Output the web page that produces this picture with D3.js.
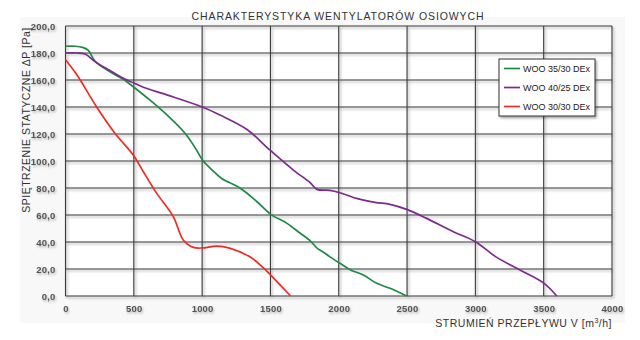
<!DOCTYPE html>
<html>
<head>
<meta charset="utf-8">
<script src="https://cdn.jsdelivr.net/npm/d3@7"></script>
<style>
  html, body { margin: 0; padding: 0; background: #ffffff; }
  svg { display: block; font-family: "Liberation Sans", Arial, sans-serif; }
</style>
</head>
<body>
<svg id="chart" width="640" height="340"></svg>
<script>
// Fan characteristic curves: static pressure vs. air flow
const title = "CHARAKTERYSTYKA WENTYLATORÓW OSIOWYCH";
const yTitle = "SPIĘTRZENIE STATYCZNE ΔP [Pa]";
const xTitleMain = "STRUMIEŃ PRZEPŁYWU V [m";
const xTitleSup = "3";
const xTitleEnd = "/h]";

const xTicks = [0, 500, 1000, 1500, 2000, 2500, 3000, 3500, 4000];
const yTicks = [0, 20, 40, 60, 80, 100, 120, 140, 160, 180, 200];

const seriesNames = ["WOO 35/30 DEx", "WOO 40/25 DEx", "WOO 30/30 DEx"];
const seriesColors = ["#1f8a45", "#7d2a8e", "#ee2c24"];

// [flow m3/h, pressure Pa]
const woo3530 = [
  [0, 185], [70, 185], [130, 184], [167, 182], [216, 174], [326, 166],
  [423, 160.5], [496, 155], [643, 143], [765, 132], [875, 120.5],
  [960, 108], [1001, 101], [1082, 92.5], [1143, 87], [1277, 80],
  [1400, 70], [1502, 60.5], [1619, 54], [1703, 47.6], [1790, 41],
  [1841, 35.5], [1880, 33], [1936, 29], [2009, 24.2], [2083, 19.5],
  [2180, 15.5], [2278, 9.4], [2375, 5.7], [2497, 0]
];
const woo4025 = [
  [0, 180], [80, 180], [143, 179.3], [216, 173.6], [326, 167],
  [423, 161.2], [496, 158], [570, 154.6], [741, 149], [1001, 140],
  [1131, 134], [1326, 123.5], [1497, 108], [1668, 93.3], [1790, 84],
  [1841, 79], [1936, 78.3], [2009, 76.5], [2131, 72.3], [2265, 69.4],
  [2375, 67.9], [2502, 64], [2644, 57.5], [2839, 47.6], [3000, 40.2],
  [3156, 28.6], [3327, 19.3], [3503, 9.4], [3596, 0]
];
const woo3030 = [
  [0, 175], [82, 164], [228, 140], [362, 120.5], [496, 104.4],
  [570, 92], [668, 76], [789, 58.8], [862, 41.5], [936, 36],
  [1001, 35.6], [1107, 37], [1201, 35.5], [1350, 29], [1447, 21],
  [1502, 15.5], [1648, 0]
];
const seriesData = [woo3530, woo4025, woo3030];

const svg = d3.select("#chart");

const x = d3.scaleLinear().domain([0, 4000]).range([65.5, 612]);
const y = d3.scaleLinear().domain([0, 200]).range([296, 26]);

const defs = svg.append("defs");
const shadow = defs.append("filter").attr("id", "shadow")
  .attr("x", "-20%").attr("y", "-20%").attr("width", "140%").attr("height", "140%");
shadow.append("feDropShadow").attr("dx", 1.5).attr("dy", 1.8)
  .attr("stdDeviation", 1.3).attr("flood-color", "#000").attr("flood-opacity", 0.35);
const tshadow = defs.append("filter").attr("id", "tshadow")
  .attr("x", "-20%").attr("y", "-40%").attr("width", "140%").attr("height", "180%");
tshadow.append("feDropShadow").attr("dx", 1).attr("dy", 1.5)
  .attr("stdDeviation", 1).attr("flood-color", "#000").attr("flood-opacity", 0.3);

// faint panel behind the plot
svg.append("rect").attr("x", 20).attr("y", 17).attr("width", 605).attr("height", 306)
  .attr("fill", "#f8f8f8");
svg.append("rect").attr("x", x(0)).attr("y", y(200))
  .attr("width", x(4000) - x(0)).attr("height", y(0) - y(200)).attr("fill", "#ffffff");

// grid
const grid = svg.append("g").attr("filter", "url(#shadow)")
  .attr("stroke", "#3a3a3a").attr("stroke-width", 1.1);
grid.selectAll("line.v").data(xTicks).join("line").attr("class", "v")
  .attr("x1", d => x(d)).attr("x2", d => x(d))
  .attr("y1", y(200)).attr("y2", y(0));
grid.selectAll("line.h").data(yTicks).join("line").attr("class", "h")
  .attr("x1", x(0)).attr("x2", x(4000))
  .attr("y1", d => y(d)).attr("y2", d => y(d));

// tick labels
const fmt = d => d.toFixed(1).replace(".", ",");
const yAxis = d3.axisLeft(y).tickValues(yTicks).tickFormat(fmt).tickSize(0).tickPadding(10);
const ga = svg.append("g").attr("transform", `translate(${x(0)},0)`).call(yAxis);
ga.select(".domain").remove();
ga.selectAll("text").attr("fill", "#555").attr("font-size", 9.5).attr("font-weight", "bold")
  .attr("letter-spacing", 0.2)
  .attr("font-family", "Liberation Sans, Arial, sans-serif").attr("filter", "url(#tshadow)");

const xAxis = d3.axisBottom(x).tickValues(xTicks).tickFormat(d => d).tickSize(0).tickPadding(9);
const gx = svg.append("g").attr("transform", `translate(0,${y(0)})`).call(xAxis);
gx.select(".domain").remove();
gx.selectAll("text").attr("fill", "#555").attr("font-size", 9.5).attr("font-weight", "bold")
  .attr("letter-spacing", 0.2)
  .attr("font-family", "Liberation Sans, Arial, sans-serif").attr("filter", "url(#tshadow)");

// curves
const line = d3.line().x(d => x(d[0])).y(d => y(d[1])).curve(d3.curveCatmullRom.alpha(0.5));
svg.append("g").selectAll("path").data(seriesData).join("path")
  .attr("d", d => line(d))
  .attr("fill", "none")
  .attr("stroke", (d, i) => seriesColors[i])
  .attr("stroke-width", 1.7)
  .attr("stroke-linejoin", "round");

// titles
svg.append("text").attr("x", 338).attr("y", 20).attr("text-anchor", "middle")
  .attr("font-size", 10.5).attr("letter-spacing", 0.9).attr("fill", "#333").text(title);

svg.append("text").attr("transform", `translate(30,120) rotate(-90)`)
  .attr("text-anchor", "middle").attr("font-size", 10.5).attr("letter-spacing", 0.5)
  .attr("fill", "#333").text(yTitle);

const xt = svg.append("text").attr("x", 612).attr("y", 327).attr("text-anchor", "end")
  .attr("font-size", 10.5).attr("letter-spacing", 0.5).attr("fill", "#333");
xt.append("tspan").text(xTitleMain);
xt.append("tspan").attr("font-size", 7).attr("dy", -4).text(xTitleSup);
xt.append("tspan").attr("dy", 4).text(xTitleEnd);

// legend
const lg = svg.append("g").attr("transform", "translate(499,59)");
lg.append("rect").attr("width", 96).attr("height", 57).attr("fill", "#fff")
  .attr("stroke", "#333").attr("stroke-width", 1).attr("filter", "url(#shadow)");
const items = lg.selectAll("g.item").data(seriesNames).join("g").attr("class", "item")
  .attr("transform", (d, i) => `translate(0,${9.5 + i * 19})`);
items.append("line").attr("x1", 5).attr("x2", 21).attr("y1", 0).attr("y2", 0)
  .attr("stroke", (d, i) => seriesColors[i]).attr("stroke-width", 1.7);
items.append("text").attr("x", 24).attr("y", 0).attr("dy", "0.35em")
  .attr("font-size", 9).attr("fill", "#222").text(d => d);
</script>
</body>
</html>
